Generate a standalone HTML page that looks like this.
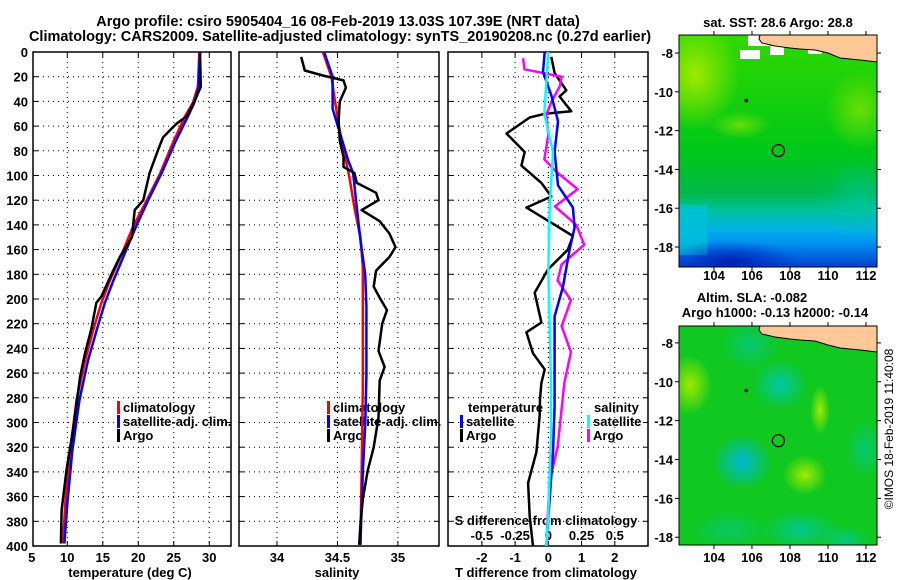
<!DOCTYPE html>
<html><head><meta charset="utf-8"><style>
html,body{margin:0;padding:0;background:#fff;width:900px;height:580px;overflow:hidden}
svg text{font-family:"Liberation Sans",Arial,sans-serif;font-weight:bold;font-size:13px;fill:#000}
</style></head><body>
<svg id="fig" width="900" height="580" viewBox="0 0 900 580" xmlns="http://www.w3.org/2000/svg">
<defs>
<linearGradient id="sstg" x1="0" y1="0" x2="0" y2="1">
<stop offset="0" stop-color="#30d800"/><stop offset="0.5" stop-color="#00c818"/><stop offset="0.68" stop-color="#00b848"/><stop offset="0.76" stop-color="#00c0a0"/><stop offset="0.84" stop-color="#00b0e8"/><stop offset="0.9" stop-color="#0090f0"/><stop offset="1" stop-color="#0040d0"/>
</linearGradient>
<radialGradient id="yel" cx="0.5" cy="0.5" r="0.5"><stop offset="0" stop-color="#a0ea00"/><stop offset="1" stop-color="#a0ea00" stop-opacity="0"/></radialGradient>
<radialGradient id="teal" cx="0.5" cy="0.5" r="0.5"><stop offset="0" stop-color="#00c8a8"/><stop offset="1" stop-color="#00c8a8" stop-opacity="0"/></radialGradient>
<radialGradient id="cy" cx="0.5" cy="0.5" r="0.5"><stop offset="0" stop-color="#00b8d8"/><stop offset="1" stop-color="#00b8d8" stop-opacity="0"/></radialGradient>
<radialGradient id="dblue" cx="0.5" cy="0.5" r="0.5"><stop offset="0" stop-color="#0020b0"/><stop offset="1" stop-color="#0030c8" stop-opacity="0"/></radialGradient>
<clipPath id="c1"><rect x="679" y="35" width="198" height="232"/></clipPath>
<clipPath id="c2"><rect x="679" y="326" width="198" height="219"/></clipPath>
</defs>
<g id="layer"></g>
</svg>
<script>
// depth levels (m)
const depthT = [0,28,39,52,58,69,79,98,120,128,150,166,179,198,203,224,244,263,306,338,371,398];
const tempArgo = [28.7,28.8,28.0,26.8,25.4,23.5,22.8,21.6,20.7,19.5,19.1,17.4,16.3,14.8,14.1,13.4,12.5,11.8,10.8,9.9,9.2,9.1];
const depthC = [0,28,41,52,73,98,120,141,163,185,203,224,250,282,323,366,398];
const tempClim = [28.6,28.4,27.7,26.6,24.9,23.1,21.2,19.3,17.7,16.0,14.8,13.7,12.5,11.3,10.4,9.7,9.4];
const tempSat = [28.7,28.5,27.9,27.0,25.2,23.3,21.4,19.7,18.1,16.5,15.3,14.2,12.9,11.7,10.7,10.0,9.6];

const depthSA = [4,15,19,23,29,40,56,72,85,93,98,106,114,120,128,137,147,158,166,177,190,199,209,220,242,255,266,296,320,339,362,383,399];
const salArgo = [34.20,34.23,34.38,34.55,34.57,34.52,34.51,34.52,34.55,34.55,34.64,34.66,34.82,34.84,34.70,34.85,34.93,34.98,34.93,34.82,34.80,34.85,34.91,34.87,34.84,34.89,34.85,34.84,34.80,34.75,34.71,34.69,34.68];
const depthSC = [0,20,40,64,83,102,126,150,174,206,273,341,399];
const salClim = [34.38,34.45,34.48,34.52,34.56,34.60,34.64,34.69,34.71,34.71,34.71,34.70,34.69];
const depthSS = [0,20,46,72,88,98,126,152,180,206,262,302,341,399];
const salSat = [34.39,34.46,34.46,34.54,34.59,34.63,34.66,34.69,34.73,34.74,34.74,34.73,34.71,34.69];

const depthDA = [4,17,23,31,36,48,50,53,66,81,92,106,117,126,135,149,160,176,195,219,227,244,257,268,281,294,324,349,376,400];
const tdiffArgo = [0.09,0.19,0.34,0.54,0.34,0.69,-0.11,-0.56,-1.26,-0.71,-0.81,-0.21,0.09,-0.66,-0.11,0.74,0.59,-0.01,-0.41,-0.21,-0.66,-0.46,-0.11,-0.21,-0.25,-0.26,-0.36,-0.61,-0.56,-0.46];
const depthDS = [0,16,35,56,81,108,126,142,160,190,214,268,287,324,400];
const tdiffSat = [-0.11,-0.16,0.09,0.29,0.19,0.29,0.74,0.79,0.64,0.44,0.19,0.19,0.19,0.14,-0.06];
const depthDSS = [0,50,81,124,176,268,308,374,400];
const sdiffSat = [0,-0.03,0.035,0.01,0,0.02,0.02,0,-0.015];
const depthDSA = [5,14,20,28,41,51,67,87,97,111,125,140,156,172,185,201,222,243,268,320,347,387,400];
const sdiffArgo = [-0.19,-0.18,0.10,0.085,0.02,-0.015,0,-0.03,0.06,0.22,0.05,0.21,0.27,0.10,0.07,0.17,0.10,0.17,0.12,0.07,0.01,-0.01,-0.01];

const depthTicks = [0,20,40,60,80,100,120,140,160,180,200,220,240,260,280,300,320,340,360,380,400];
const tempTicks = [5,10,15,20,25,30];
const salTicks = [34,34.5,35];
const tdTicks = [-2,-1,0,1,2];
const sdTicks = [-0.5,-0.25,0,0.25,0.5];
const sdTickLabels = ['-0.5','-0.25','0','0.25','0.5'];
const lonTicks = [104,106,108,110,112];
const latTicks = [-8,-10,-12,-14,-16,-18];

const NS='http://www.w3.org/2000/svg';
const L=document.getElementById('layer');
function mk(tag,attrs,parent){const e=document.createElementNS(NS,tag);for(const k in attrs)e.setAttribute(k,attrs[k]);(parent||L).appendChild(e);return e;}
function txt(x,y,s,anchor,parent,size){const e=mk('text',{x:x,y:y,'text-anchor':anchor||'middle'},parent);if(size)e.style.fontSize=size+'px';e.textContent=s;return e;}

const Y0=52,Y1=546;
const yD=d=>Y0+(d/400)*(Y1-Y0);
function lin(d0,d1,r0,r1){return v=>r0+(v-d0)/(d1-d0)*(r1-r0);}
const panels=[
 {x0:33,x1:231,dom:[5.17,33.06],name:'temperature-panel'},
 {x0:239,x1:439,dom:[33.686,35.34],name:'salinity-panel'},
 {x0:448,x1:648,dom:[-3.02,3.0],name:'difference-panel'}];
panels.forEach(p=>p.sx=lin(p.dom[0],p.dom[1],p.x0,p.x1));
const sdx=v=>panels[2].sx(v*4);

function frame(p,xt,xtl){
  const g=mk('g',{});
  
  
  depthTicks.forEach(d=>{ if(d>0&&d<400){mk('line',{x1:p.x0,x2:p.x1,y1:yD(d),y2:yD(d),stroke:'#000','stroke-width':1,'stroke-dasharray':'1 4'},g);
    mk('line',{x1:p.x0,x2:p.x0+5,y1:yD(d),y2:yD(d),stroke:'#000'},g);mk('line',{x1:p.x1-5,x2:p.x1,y1:yD(d),y2:yD(d),stroke:'#000'},g);}});
  xt.forEach((v,i)=>{const x=p.sx(v);
    if(x>p.x0+1&&x<p.x1-1){mk('line',{x1:x,x2:x,y1:Y0,y2:Y1,stroke:'#000','stroke-dasharray':'1 4'},g);
    mk('line',{x1:x,x2:x,y1:Y1-5,y2:Y1,stroke:'#000'},g);mk('line',{x1:x,x2:x,y1:Y0,y2:Y0+5,stroke:'#000'},g);}
    const t=txt(x,562,xtl?xtl[i]:String(v),'middle',g);
    
    });
  mk('rect',{x:p.x0,y:Y0,width:p.x1-p.x0,height:Y1-Y0,fill:'none',stroke:'#000','stroke-width':1.5},g);
  return g;
}
function series(p,depths,vals,color,w,name,sx){
  const f=sx||p.sx;
  const pts=vals.map((v,i)=>f(v).toFixed(1)+','+yD(depths[i]).toFixed(1)).join(' ');
  const e=mk('polyline',{points:pts,fill:'none',stroke:color,'stroke-width':w,'stroke-linejoin':'round'});
  
  
}
function legend(x,y,items,g){items.forEach((it,i)=>{mk('rect',{x:x,y:y+i*14-11,width:3,height:13,fill:it[0]},g);const t=txt(x+6,y+i*14,it[1],'start',g);
  
  });}

let t=txt(338,26,'Argo profile: csiro 5905404_16 08-Feb-2019 13.03S 107.39E (NRT data)','middle',null,14.5);


t=txt(340,41,'Climatology: CARS2009. Satellite-adjusted climatology: synTS_20190208.nc (0.27d earlier)','middle',null,14.5);



depthTicks.forEach(d=>{const e=txt(28,yD(d)+5,String(d),'end',null,13);
  
  });

const g1=frame(panels[0],tempTicks);
const g2=frame(panels[1],salTicks);
const g3=frame(panels[2],tdTicks);
sdTicks.forEach((v,i)=>{const e=txt(sdx(v),540,sdTickLabels[i],'middle',g3);
  
  });
mk('line',{x1:sdx(0),x2:sdx(0),y1:Y0,y2:Y1,stroke:'#000','stroke-dasharray':'1 4'},g3);
t=txt(546,525,'S difference from climatology','middle',g3);


t=txt(130,577,'temperature (deg C)');
t=txt(337,577,'salinity');
t=txt(546,577,'T difference from climatology');

series(panels[0],depthC,tempClim,'#ff0000',2.5,'temp-climatology-line');
series(panels[0],depthC,tempSat,'#0000ff',2.5,'temp-satellite-line');
series(panels[0],depthT,tempArgo,'#000',2.5,'temp-argo-line');
series(panels[1],depthSC,salClim,'#ff0000',2.5,'sal-climatology-line');
series(panels[1],depthSS,salSat,'#0000ff',2.5,'sal-satellite-line');
series(panels[1],depthSA,salArgo,'#000',2.5,'sal-argo-line');
series(panels[2],depthDA,tdiffArgo,'#000',2.5,'tdiff-argo-line');
series(panels[2],depthDSA,sdiffArgo,'#ff00ff',2.5,'sdiff-argo-line',sdx);
series(panels[2],depthDS,tdiffSat,'#0000ff',2.5,'tdiff-satellite-line');
series(panels[2],depthDSS,sdiffSat,'#00ffff',2.5,'sdiff-satellite-line',sdx);

legend(117,412,[['#ff0000','climatology'],['#0000ff','satellite-adj. clim.'],['#000','Argo']],g1);
legend(327,412,[['#ff0000','climatology'],['#0000ff','satellite-adj. clim.'],['#000','Argo']],g2);
t=txt(468,412,'temperature','start',g3);
legend(460,426,[['#0000ff','satellite'],['#000','Argo']],g3);
t=txt(594,412,'salinity','start',g3);
legend(587,426,[['#00ffff','satellite'],['#ff00ff','Argo']],g3);

const lonDom=[102.16,112.58];
function mapAxes(y0,y1,latTop,latBot,name){
  const sx=lin(lonDom[0],lonDom[1],679,877), sy=lin(latTop,latBot,y0,y1);
  const g=mk('g',{});
  
  
  return {g,sx,sy};
}
const m1=mapAxes(35,267,-7.07,-19.03,'sst-map');
let bg=mk('g',{'clip-path':'url(#c1)'},m1.g);
mk('rect',{x:679,y:35,width:198,height:232,fill:'url(#sstg)'},bg);
mk('ellipse',{cx:695,cy:75,rx:45,ry:55,fill:'url(#yel)'},bg);
mk('ellipse',{cx:860,cy:110,rx:35,ry:40,fill:'url(#yel)','opacity':0.6},bg);
mk('ellipse',{cx:740,cy:125,rx:30,ry:14,fill:'url(#yel)','opacity':0.6},bg);
mk('rect',{x:679,y:205,width:28,height:50,fill:'#00c0d8',opacity:0.8},bg);
mk('ellipse',{cx:730,cy:262,rx:70,ry:22,fill:'url(#dblue)'},bg);
mk('ellipse',{cx:860,cy:200,rx:40,ry:40,fill:'url(#teal)',opacity:0.6},bg);
mk('rect',{x:748,y:35,width:22,height:11,fill:'#fff'},bg);
mk('rect',{x:740,y:50,width:20,height:9,fill:'#fff'},bg);
mk('rect',{x:770,y:46,width:14,height:9,fill:'#fff'},bg);
mk('rect',{x:808,y:46,width:14,height:8,fill:'#fff'},bg);
mk('path',{d:'M760 35 L877 35 L877 62 L860 60 L840 58 L828 53 L815 50 L800 49 L790 48 L775 46 L762 43 L759 39 Z',fill:'#ffc896',stroke:'#000','stroke-width':1},bg);
const m2=mapAxes(326,545,-7.13,-18.4,'sla-map');
bg=mk('g',{'clip-path':'url(#c2)'},m2.g);
mk('rect',{x:679,y:326,width:198,height:219,fill:'#10c820'},bg);
mk('ellipse',{cx:690,cy:385,rx:22,ry:30,fill:'url(#yel)'},bg);
mk('ellipse',{cx:750,cy:345,rx:30,ry:25,fill:'url(#teal)',opacity:0.6},bg);
mk('ellipse',{cx:780,cy:385,rx:28,ry:25,fill:'url(#teal)'},bg);
mk('ellipse',{cx:742,cy:462,rx:30,ry:28,fill:'url(#cy)'},bg);
mk('ellipse',{cx:805,cy:475,rx:22,ry:20,fill:'url(#yel)'},bg);
mk('ellipse',{cx:820,cy:410,rx:10,ry:25,fill:'url(#yel)'},bg);
mk('ellipse',{cx:800,cy:530,rx:40,ry:20,fill:'url(#teal)',opacity:0.8},bg);
mk('ellipse',{cx:845,cy:540,rx:25,ry:15,fill:'url(#teal)',opacity:0.7},bg);
mk('ellipse',{cx:730,cy:530,rx:40,ry:20,fill:'url(#teal)',opacity:0.5},bg);
mk('ellipse',{cx:865,cy:450,rx:20,ry:30,fill:'url(#teal)',opacity:0.6},bg);
mk('path',{d:'M760 326 L877 326 L877 352 L860 350 L840 348 L828 345 L815 341 L800 340 L790 339 L775 337 L762 334 L759 330 Z',fill:'#ffc896',stroke:'#000','stroke-width':1},bg);

[[m1,35,267,280],[m2,326,545,562]].forEach(([m,y0,y1,ly])=>{
  mk('rect',{x:679,y:y0,width:198,height:y1-y0,fill:'none',stroke:'#000','stroke-width':1},m.g);
  lonTicks.forEach(v=>{const x=m.sx(v);mk('line',{x1:x,x2:x,y1:y0-4,y2:y0,stroke:'#000'},m.g);mk('line',{x1:x,x2:x,y1:y1,y2:y1+4,stroke:'#000'},m.g);
    const e=txt(x,ly,String(v),'middle',m.g);});
  latTicks.forEach(v=>{const y=m.sy(v);if(y<y0||y>y1)return;mk('line',{x1:675,x2:679,y1:y,y2:y,stroke:'#000'},m.g);mk('line',{x1:877,x2:881,y1:y,y2:y,stroke:'#000'},m.g);
    const e=txt(673,y+5,String(v),'end',m.g);});
  const c=mk('circle',{cx:m.sx(107.39),cy:m.sy(-13.03),r:6,fill:'none',stroke:'#000','stroke-width':1.2},m.g);
  
  
  mk('circle',{cx:m.sx(105.7),cy:m.sy(-10.45),r:1.8,fill:'#000'},m.g);
});
t=txt(778,27,'sat. SST: 28.6 Argo: 28.8');
t=txt(752,302,'Altim. SLA: -0.082');
t=txt(775,317,'Argo h1000: -0.13 h2000: -0.14');
t=mk('text',{x:0,y:0,'text-anchor':'middle',transform:'translate(893,429) rotate(-90)'});
t.style.fontWeight='normal';t.style.fontSize='12px';t.textContent='©IMOS 18-Feb-2019 11:40:08';


</script>
</body></html>
